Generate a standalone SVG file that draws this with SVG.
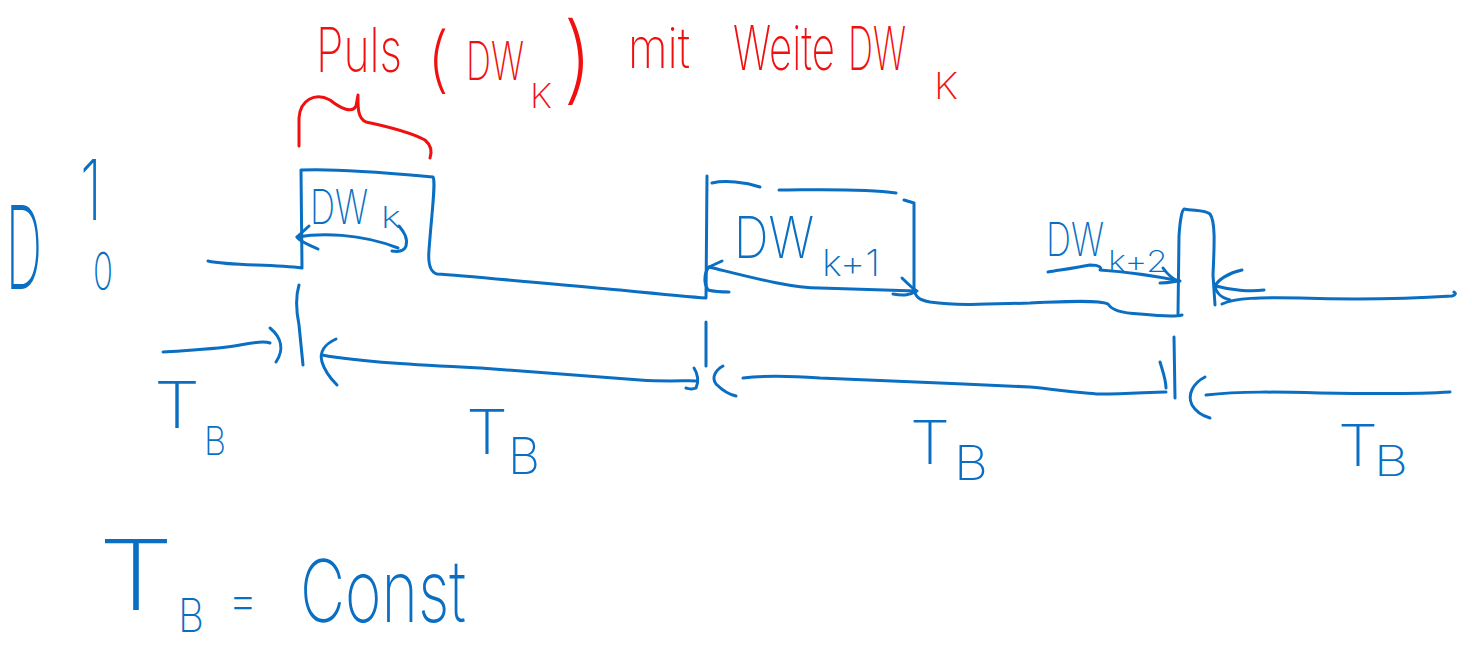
<svg xmlns="http://www.w3.org/2000/svg" width="1472" height="647" viewBox="0 0 1472 647">
<style>
.b{fill:none;stroke:#0A6FC2;stroke-width:3;stroke-linecap:round;stroke-linejoin:round}
.r{fill:none;stroke:#F01010;stroke-width:3;stroke-linecap:round;stroke-linejoin:round}
.tb{fill:#0A6FC2;font-family:Inter,"Liberation Sans","DejaVu Sans",sans-serif;font-weight:200}
.tr{fill:#F01010;font-family:Inter,"Liberation Sans","DejaVu Sans",sans-serif;font-weight:200}
</style>
<rect width="1472" height="647" fill="#fff"/>

<g id="title">
<text class="tr" font-size="62"><tspan x="316" y="72" textLength="86" lengthAdjust="spacingAndGlyphs">Puls</tspan><tspan x="426" y="84" font-size="72">(</tspan><tspan x="466" y="80" font-size="54" textLength="58" lengthAdjust="spacingAndGlyphs">DW</tspan><tspan x="530" y="108" font-size="34" textLength="22" lengthAdjust="spacingAndGlyphs">K</tspan><tspan x="562" y="92" font-size="96">)</tspan><tspan x="628" y="68" font-size="56" textLength="62" lengthAdjust="spacingAndGlyphs">mit</tspan><tspan x="733" y="70" textLength="102" lengthAdjust="spacingAndGlyphs">Weite</tspan><tspan x="848" y="70" font-size="60" textLength="58" lengthAdjust="spacingAndGlyphs">DW</tspan><tspan x="934" y="99" font-size="36" textLength="24" lengthAdjust="spacingAndGlyphs">K</tspan></text>
</g>

<g id="brace">
<path class="r" d="M299,146 L299,118 C300,100 315,92 330,100 C340,108 352,114 356,106 L358,95 C358,105 357,118 366,122 C385,126 410,132 425,140 C432,146 432,152 430,158"/>
</g>

<g id="axis-label">
<text class="tb" font-size="116"><tspan x="6" y="289" textLength="36" lengthAdjust="spacingAndGlyphs">D</tspan><tspan x="80" y="220" font-size="84" textLength="22" lengthAdjust="spacingAndGlyphs">1</tspan><tspan x="93" y="290" font-size="52" textLength="20" lengthAdjust="spacingAndGlyphs">0</tspan></text>
</g>

<g id="signal">
<path class="b" d="M208,261 C230,266 270,264 302,268 L301,170 C340,168 400,174 433,177 C436,182 432,210 429,250 C428,262 430,272 437,274 C470,276 560,285 620,290 C660,294 690,297 706,298 L707,176"/>
<path class="b" d="M712,183 C725,180 745,182 760,187"/>
<path class="b" d="M779,190 C810,190 860,188 896,193"/>
<path class="b" d="M904,200 L914,203 L914,292"/>
<path class="b" d="M914,290 C916,298 920,300 930,302 C960,306 990,304 1030,303 C1070,301 1100,300 1108,304 C1112,310 1120,313 1140,314 C1160,316 1175,317 1182,315"/>
<path class="b" d="M1178,314 L1179,236 C1180,220 1182,210 1184,209 C1195,211 1205,210 1210,214 C1216,222 1214,250 1213,275 L1215,305"/>
<path class="b" d="M1222,304 C1235,298 1260,297 1300,298 C1360,300 1420,298 1452,296 C1456,295 1456,293 1454,292"/>
</g>

<g id="markers">
<path class="b" d="M299,285 C296,295 296,310 299,325 L303,365"/>
<path class="b" d="M706,322 L706,366"/>
<path class="b" d="M1174,337 L1175,398"/>
</g>

<g id="arrow-dwk">
<path class="b" d="M309,226 L297,237 C320,233 360,233 398,248"/>
<path class="b" d="M297,237 C300,242 308,244 318,249"/>
<path class="b" d="M399,226 C404,232 408,238 406,246 C404,252 398,252 392,251"/>
<text class="tb" font-size="48"><tspan x="310" y="224" textLength="58" lengthAdjust="spacingAndGlyphs">DW</tspan><tspan x="381" y="228" font-size="30" textLength="20" lengthAdjust="spacingAndGlyphs">k</tspan></text>
</g>

<g id="arrow-dwk1">
<path class="b" d="M722,261 L709,267 C706,270 702,280 708,290 C712,291 716,292 729,292"/>
<path class="b" d="M709,267 C750,277 790,288 820,288 C860,289 890,290 916,291"/>
<path class="b" d="M902,278 C908,284 913,289 917,291 C910,295 904,296 893,294"/>
<text class="tb" font-size="58"><tspan x="734" y="258" textLength="80" lengthAdjust="spacingAndGlyphs">DW</tspan><tspan x="822" y="276" font-size="36" textLength="58" lengthAdjust="spacingAndGlyphs">k+1</tspan></text>
</g>

<g id="arrow-dwk2">
<path class="b" d="M1048,272 C1060,270 1075,268 1090,265 C1100,265 1102,268 1100,270 C1130,272 1155,276 1180,281"/>
<path class="b" d="M1163,268 C1168,275 1173,279 1178,281 C1172,282 1168,283 1160,283"/>
<path class="b" d="M1242,270 C1228,273 1218,280 1215,286 C1216,293 1220,297 1230,300"/>
<path class="b" d="M1216,286 C1230,290 1250,292 1264,290"/>
<text class="tb" font-size="46"><tspan x="1046" y="256" textLength="58" lengthAdjust="spacingAndGlyphs">DW</tspan><tspan x="1108" y="272" font-size="30" textLength="60" lengthAdjust="spacingAndGlyphs">k+2</tspan></text>
</g>

<g id="arrows-tb">
<path class="b" d="M163,352 C190,350 220,349 240,345 C255,342 265,341 270,343"/>
<path class="b" d="M270,328 C282,338 284,350 276,362"/>
<path class="b" d="M336,339 C325,344 319,352 322,362 C325,372 330,378 337,385"/>
<path class="b" d="M322,355 C360,362 420,365 480,368 C540,372 600,377 640,380 C670,382 690,380 697,381"/>
<path class="b" d="M694,368 C698,374 699,382 696,388 C692,390 690,389 686,388"/>
<path class="b" d="M723,366 C716,370 711,377 716,384 C722,390 727,394 736,396"/>
<path class="b" d="M743,378 C760,376 790,376 820,378 C880,380 960,384 1030,387 C1060,390 1080,393 1100,394 C1130,394 1150,392 1166,392"/>
<path class="b" d="M1160,362 C1163,372 1166,380 1166,388"/>
<path class="b" d="M1205,377 C1193,383 1187,395 1192,405 C1196,412 1203,416 1210,418"/>
<path class="b" d="M1206,395 C1240,391 1280,392 1320,393 C1380,394 1420,394 1450,392"/>
</g>

<g id="labels-tb">
<text class="tb" font-size="64"><tspan x="154" y="428" textLength="46" lengthAdjust="spacingAndGlyphs">T</tspan><tspan x="204" y="455" font-size="40" textLength="22" lengthAdjust="spacingAndGlyphs">B</tspan></text>
<text class="tb" font-size="62"><tspan x="466" y="454" textLength="42" lengthAdjust="spacingAndGlyphs">T</tspan><tspan x="508" y="474" font-size="50" textLength="32" lengthAdjust="spacingAndGlyphs">B</tspan></text>
<text class="tb" font-size="60"><tspan x="910" y="464" textLength="40" lengthAdjust="spacingAndGlyphs">T</tspan><tspan x="954" y="480" font-size="48" textLength="34" lengthAdjust="spacingAndGlyphs">B</tspan></text>
<text class="tb" font-size="58"><tspan x="1338" y="466" textLength="40" lengthAdjust="spacingAndGlyphs">T</tspan><tspan x="1374" y="476" font-size="42" textLength="34" lengthAdjust="spacingAndGlyphs">B</tspan></text>
</g>

<g id="equation">
<text class="tb" font-size="98"><tspan x="98" y="610" textLength="76" lengthAdjust="spacingAndGlyphs">T</tspan><tspan x="178" y="632" font-size="46" textLength="26" lengthAdjust="spacingAndGlyphs">B</tspan><tspan x="228" y="618" font-size="52" textLength="30" lengthAdjust="spacingAndGlyphs">=</tspan><tspan x="300" y="622" font-size="86" textLength="166" lengthAdjust="spacingAndGlyphs">Const</tspan></text>
</g>
</svg>
